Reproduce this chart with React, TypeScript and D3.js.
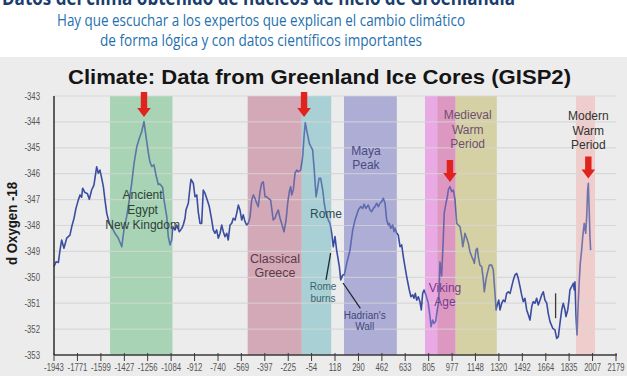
import React from "react";
import * as d3 from "d3";

// ---- data ----
const years = [
  -1943, -1928, -1911, -1899, -1887, -1870, -1850, -1826, -1813, -1796, -1782, -1765, -1752, -1740, -1733, -1716,
  -1699, -1684, -1667, -1650, -1630, -1618, -1606, -1593, -1581, -1569, -1556, -1537, -1520, -1496, -1471, -1446,
  -1430, -1410, -1391, -1373, -1356, -1336, -1317, -1300, -1283, -1268, -1251, -1239, -1226, -1210, -1195, -1178,
  -1166, -1146, -1136, -1116, -1105, -1092, -1080, -1072, -1055, -1043, -1024, -1006, -995, -982, -975, -958,
  -945, -938, -921, -909, -896, -885, -872, -860, -848, -835, -819, -804, -786, -775, -762, -750,
  -738, -725, -713, -701, -689, -676, -665, -652, -640, -628, -615, -603, -591, -579, -566, -555,
  -542, -530, -518, -505, -493, -481, -469, -456, -445, -432, -420, -408, -395, -383, -371, -354,
  -335, -322, -310, -298, -285, -273, -256, -241, -229, -217, -207, -200, -188, -175, -163, -151,
  -134, -119, -109, -100, -85, -70, -58, -46, -34, -21, -12, 1, 13, 28, 39, 52,
  69, 81, 94, 105, 118, 130, 150, 160, 174, 186, 204, 228, 248, 265, 289, 306,
  321, 331, 345, 362, 375, 387, 399, 411, 424, 436, 448, 460, 472, 485, 497, 509,
  516, 527, 541, 551, 558, 571, 582, 595, 607, 619, 631, 644, 663, 675, 688, 697,
  707, 717, 729, 741, 751, 761, 771, 785, 802, 815, 822, 834, 844, 856, 868, 878,
  888, 900, 912, 919, 932, 942, 949, 961, 974, 986, 998, 1011, 1022, 1035, 1047, 1055,
  1064, 1071, 1084, 1096, 1108, 1121, 1132, 1140, 1152, 1162, 1169, 1181, 1194, 1206, 1213, 1225,
  1235, 1250, 1267, 1279, 1286, 1294, 1299, 1308, 1319, 1328, 1341, 1352, 1365, 1377, 1389, 1402,
  1414, 1426, 1438, 1451, 1462, 1475, 1487, 1499, 1511, 1524, 1536, 1548, 1561, 1572, 1585, 1597,
  1609, 1622, 1634, 1646, 1658, 1671, 1682, 1695, 1715, 1731, 1744, 1756, 1768, 1781, 1792, 1805,
  1812, 1825, 1834, 1841, 1854, 1866, 1873, 1878, 1886, 1893, 1902, 1910, 1917, 1927, 1935, 1946,
  1957, 1964, 1971, 1976, 1983, 1988, 1993,
];
const d18O = [
  -349.59, -349.40, -349.43, -348.95, -348.56, -348.88, -348.49, -348.37, -348.05, -347.72, -347.34, -347.02, -346.82, -346.91, -346.56, -346.73,
  -346.76, -346.99, -346.63, -346.44, -345.73, -345.98, -345.86, -346.18, -346.50, -347.02, -347.53, -347.92, -348.05, -348.30, -348.49, -348.82,
  -348.17, -347.66, -347.02, -346.37, -345.60, -344.96, -344.63, -344.38, -343.99, -344.57, -345.20, -345.55, -345.72, -345.66, -346.05, -346.42,
  -346.40, -346.53, -347.02, -347.66, -348.43, -348.75, -348.56, -348.05, -348.17, -347.98, -348.24, -348.11, -347.98, -347.72, -347.40, -347.14,
  -346.50, -346.22, -346.37, -346.89, -346.82, -347.47, -347.92, -347.92, -346.63, -346.76, -347.02, -347.27, -347.79, -348.17, -348.30, -348.17,
  -348.49, -348.30, -347.98, -348.24, -348.43, -348.30, -348.56, -347.98, -347.92, -347.72, -347.79, -347.53, -347.21, -347.40, -347.79, -347.59,
  -347.85, -347.98, -347.92, -347.66, -347.02, -346.82, -346.95, -347.14, -347.27, -346.69, -346.37, -346.31, -346.89, -346.89, -346.95, -347.02,
  -347.79, -347.72, -347.53, -347.40, -347.72, -347.92, -348.24, -347.79, -347.14, -346.69, -346.50, -346.82, -346.63, -345.98, -345.86, -345.92,
  -345.86, -345.34, -344.57, -344.03, -344.44, -344.83, -344.96, -345.08, -345.86, -346.89, -346.63, -346.18, -346.18, -346.63, -347.14, -347.53,
  -347.79, -347.92, -348.30, -348.82, -348.43, -348.95, -349.59, -350.10, -349.91, -349.91, -349.46, -348.95, -348.17, -347.79, -347.40, -347.27,
  -347.34, -347.18, -347.34, -347.21, -347.40, -347.47, -347.34, -347.27, -347.14, -347.27, -347.14, -347.08, -346.95, -347.14, -347.79, -347.98,
  -347.92, -348.11, -347.98, -348.24, -348.11, -348.30, -348.37, -348.82, -348.75, -349.20, -349.59, -349.98, -350.49, -350.75, -350.68, -350.81,
  -350.62, -350.88, -350.75, -350.94, -351.26, -350.62, -350.49, -350.68, -351.00, -351.52, -351.91, -351.65, -351.78, -351.71, -351.26, -351.00,
  -349.41, -349.95, -348.56, -347.53, -347.14, -346.89, -346.63, -346.50, -346.69, -346.63, -347.00, -347.92, -347.98, -348.05, -348.43, -348.82,
  -348.56, -348.30, -348.49, -348.69, -349.01, -349.20, -349.33, -349.46, -348.95, -348.88, -349.20, -349.53, -349.59, -350.10, -350.56, -350.10,
  -349.85, -349.53, -349.53, -349.72, -350.23, -350.81, -351.26, -351.07, -350.88, -351.26, -351.00, -350.88, -350.94, -350.62, -350.56, -350.62,
  -350.36, -350.10, -349.91, -349.85, -350.04, -350.36, -350.68, -350.94, -350.81, -351.26, -351.45, -351.65, -351.13, -350.94, -351.00, -350.81,
  -351.07, -350.88, -350.68, -350.56, -350.88, -351.00, -351.39, -351.71, -351.97, -352.03, -352.36, -352.29, -351.78, -351.26, -351.00, -351.26,
  -351.52, -351.26, -350.88, -350.49, -350.36, -350.23, -350.49, -350.17, -351.52, -352.23, -351.00, -350.10, -349.46, -348.95, -348.43, -347.92,
  -348.30, -347.66, -346.63, -346.37, -347.53, -348.43, -348.95,
];

const xTickLabels = [
  "-1943", "-1771", "-1599", "-1427", "-1256", "-1084", "-912", "-740", "-569", "-397", "-225", "-54",
  "118", "290", "462", "633", "805", "977", "1148", "1320", "1492", "1664", "1835", "2007", "2179",
];
const yTicks = [-343, -344, -345, -346, -347, -348, -349, -350, -351, -352, -353];

const bandStart = [-1532, -522, -126, 184, 778, 868, 1003, 1886];
const bandEnd = [-1075, -126, 90, 571, 868, 1003, 1304, 2025];

const arrowYears = [-1283, -109, 961, 1976];
const arrowTipValues = [-343.81, -343.81, -346.32, -346.19];

const labelLines = [
  ["Ancient", "Egypt", "New Kingdom"],
  ["Classical", "Greece"],
  ["Rome"],
  ["Rome", "burns"],
  ["Hadrian's", "Wall"],
  ["Maya", "Peak"],
  ["Medieval", "Warm", "Period"],
  ["Viking", "Age"],
  ["Modern", "Warm", "Period"],
];
const labelYears = [-1293, -322, 52, 30, 336, 345, 1091, 925, 1976];
const labelValues = [-346.82, -349.27, -347.53, -350.34, -351.46, -345.11, -343.73, -350.42, -343.77];

const pointerYears = [[86, 52], [177, 304], [1736, 1736]];
const pointerValues = [[-349.07, -350.1], [-350.22, -351.2], [-350.62, -351.58]];

// ---- styles ----
const bandColors = ["#a8d4b5", "#d4a9b7", "#a9d0d4", "#aeadd5", "#e9a9e5", "#dd98c2", "#d5d1a5", "#f0cdcd"];
const labelColors = ["#2c4236", "#5c3a48", "#2c4e56", "#3b6670", "#3e477a", "#474a80", "#6e5070", "#7a3a8a", "#333333"];
const labelSizes = [12, 12.5, 12, 10, 10, 12, 12, 12, 12];
const labelLineH = [14.7, 14.4, 14, 12.3, 11.7, 14.3, 14.5, 13.4, 14.5];
const arrowLen = [25, 25, 22, 22];

const W = 627;
const H = 376;
const LEFT = 54;
const RIGHT = 616;
const TOP = 96;
const BOTTOM = 355;

// narrow tick label width estimate (px)
const tickWidth = (s: string) =>
  s.split("").reduce((acc, c) => acc + (c === "-" ? 3 : 4.2), 0);

export default function App() {
  const x = d3.scaleLinear().domain([-1943, 2179]).range([LEFT, RIGHT]);
  const y = d3.scaleLinear().domain([-353, -343]).range([BOTTOM, TOP]);
  const pts: [number, number][] = years.map((yr, i) => [yr, d18O[i]]);
  const line = d3
    .line<[number, number]>()
    .x((d) => x(d[0]))
    .y((d) => y(d[1]));
  const pathD = line(pts) || "";
  const tickFont = "'Liberation Sans', Arial, sans-serif";
  const sans = "'Liberation Sans', Arial, Helvetica, sans-serif";

  const bands = bandStart.map((s, i) => (
    <rect key={"b" + i} x={x(s)} y={TOP} width={x(bandEnd[i]) - x(s)} height={BOTTOM - TOP} fill={bandColors[i]} />
  ));

  return (
    <svg
      width={W}
      height={H}
      viewBox={`0 0 ${W} ${H}`}
      style={{ position: "absolute", left: 0, top: 0, display: "block" }}
    >
      <rect x={0} y={0} width={W} height={H} fill="#ececec" />
      <rect x={0} y={0} width={W} height={57} fill="#ffffff" />
      {/* header */}
      <text x={2} y={5} fontFamily="'Open Sans', 'Noto Sans', sans-serif" fontWeight={700} fontSize={20}
        fill="#1b3d6d" textLength={513} lengthAdjust="spacingAndGlyphs">
        Datos del clima obtenido de núcleos de hielo de Groenlandia
      </text>
      <text x={57} y={26} fontFamily="'Open Sans', 'Noto Sans', sans-serif" fontSize={16}
        fill="#2470ae" textLength={408} lengthAdjust="spacingAndGlyphs">
        Hay que escuchar a los expertos que explican el cambio climático
      </text>
      <text x={100} y={46} fontFamily="'Open Sans', 'Noto Sans', sans-serif" fontSize={16}
        fill="#2470ae" textLength={322} lengthAdjust="spacingAndGlyphs">
        de forma lógica y con datos científicos importantes
      </text>

      {/* chart title */}
      <text x={68} y={84} fontFamily={sans} fontWeight={700} fontSize={20.5} fill="#151515"
        textLength={503} lengthAdjust="spacingAndGlyphs">
        Climate: Data from Greenland Ice Cores (GISP2)
      </text>

      {/* bands */}
      {bands}

      {/* grid */}
      {yTicks.slice(0, -1).map((t) => (
        <line key={"g" + t} x1={LEFT} x2={RIGHT} y1={y(t)} y2={y(t)} stroke="#d8d8d8" strokeWidth={1.2} />
      ))}

      {/* data line */}
      <path d={pathD} fill="none" stroke="#3b4da0" strokeWidth={1.6} strokeLinejoin="round" />

      {/* band overlay tint */}
      <g opacity={0.3}>
        {bandStart.map((s, i) => (
          <rect key={"o" + i} x={x(s)} y={TOP} width={x(bandEnd[i]) - x(s)} height={BOTTOM - TOP} fill={bandColors[i]} />
        ))}
      </g>

      {/* annotation labels */}
      {labelLines.map((lines, i) => (
        <g key={"l" + i}>
          {lines.map((t, j) => (
            <text key={j} x={x(labelYears[i])} y={y(labelValues[i]) + j * labelLineH[i]} dy="0.35em"
              textAnchor="middle" fontFamily={sans} fontSize={labelSizes[i]} fill={labelColors[i]}>
              {t}
            </text>
          ))}
        </g>
      ))}

      {/* pointers */}
      {pointerYears.map((p, i) => (
        <line key={"p" + i} x1={x(p[0])} x2={x(p[1])} y1={y(pointerValues[i][0])} y2={y(pointerValues[i][1])}
          stroke={i === 2 ? "#3a3a3a" : "#1e2a2e"} strokeWidth={1.3} />
      ))}

      {/* arrows */}
      {arrowYears.map((yr, i) => {
        const cx = x(yr);
        const tip = y(arrowTipValues[i]);
        const top = tip - arrowLen[i];
        const head = 9;
        const sw = 3.2;
        const hw = 6.8;
        const d = `M${cx - sw},${top} L${cx + sw},${top} L${cx + sw},${tip - head} L${cx + hw},${tip - head} L${cx},${tip} L${cx - hw},${tip - head} L${cx - sw},${tip - head} Z`;
        return <path key={"a" + i} d={d} fill="#e0231c" />;
      })}

      {/* axes */}
      <line x1={LEFT} x2={LEFT} y1={TOP} y2={BOTTOM} stroke="#3a3a3a" strokeWidth={1.6} />
      <line x1={LEFT} x2={RIGHT + 1} y1={BOTTOM} y2={BOTTOM} stroke="#3a3a3a" strokeWidth={1.6} />
      {xTickLabels.map((lab) => (
        <g key={"xt" + lab}>
          <line x1={x(+lab)} x2={x(+lab)} y1={BOTTOM - 2} y2={BOTTOM + 6} stroke="#3a3a3a" strokeWidth={1} />
          <text x={x(+lab)} y={371} textAnchor="middle" fontFamily={tickFont} fontSize={10} fill="#555"
            textLength={tickWidth(lab)} lengthAdjust="spacingAndGlyphs">
            {lab}
          </text>
        </g>
      ))}
      {yTicks.map((t) => (
        <text key={"yt" + t} x={40} y={y(t)} dy="0.35em" textAnchor="end" fontFamily={tickFont} fontSize={10} fill="#555"
          textLength={tickWidth(String(t))} lengthAdjust="spacingAndGlyphs">
          {t}
        </text>
      ))}
      <text transform="translate(17,223.5) rotate(-90)" textAnchor="middle" fontFamily={sans} fontWeight={700}
        fontSize={14} fill="#1a1a1a" textLength={83} lengthAdjust="spacingAndGlyphs">
        d Oxygen -18
      </text>
    </svg>
  );
}
